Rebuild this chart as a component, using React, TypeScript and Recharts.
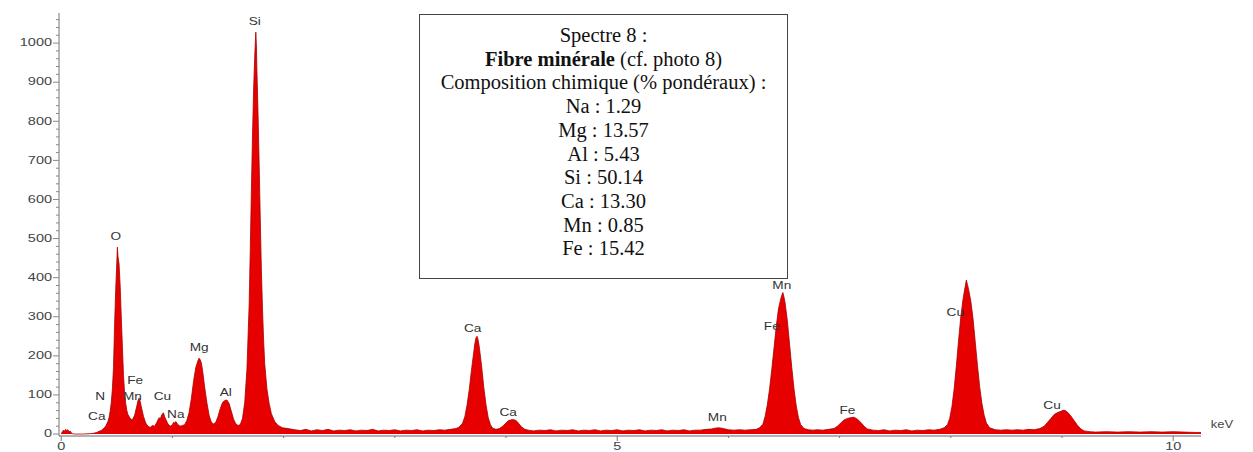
import { AreaChart, Area, XAxis, YAxis, ReferenceDot } from "recharts";

// EDS spectrum, [keV, counts]
const spectrumLow: [number, number][] = [
  [0.0, 0], [0.01, 6], [0.02, 10], [0.03, 7], [0.04, 12], [0.05, 9], [0.06, 11], [0.07, 5],
  [0.08, 8], [0.09, 3], [0.1, 1], [0.12, 0], [0.2, 0], [0.26, 1], [0.29, 2], [0.32, 4],
  [0.34, 7], [0.36, 9], [0.38, 14], [0.4, 20], [0.42, 32], [0.43, 42], [0.44, 58], [0.45, 80],
  [0.46, 115], [0.47, 170], [0.48, 280], [0.49, 370], [0.5, 440], [0.505, 478], [0.51, 455],
  [0.52, 435], [0.53, 380], [0.54, 300], [0.55, 225], [0.56, 150], [0.57, 105], [0.58, 78],
  [0.59, 60], [0.6, 50], [0.62, 40], [0.64, 36], [0.66, 48], [0.68, 72], [0.69, 85], [0.7, 92],
  [0.71, 84], [0.72, 70], [0.74, 45], [0.76, 28], [0.78, 20], [0.8, 17], [0.82, 22], [0.84, 20],
  [0.86, 30], [0.88, 42], [0.89, 38], [0.9, 46], [0.91, 52], [0.92, 54], [0.93, 44], [0.94, 38],
  [0.96, 26], [0.98, 20], [1.0, 24], [1.01, 30], [1.02, 28], [1.03, 32], [1.05, 24], [1.07, 20],
  [1.09, 22], [1.11, 24], [1.13, 35], [1.15, 55], [1.17, 90], [1.19, 135], [1.21, 170],
  [1.23, 188], [1.24, 194], [1.25, 190], [1.26, 182], [1.27, 165], [1.29, 120], [1.31, 80],
  [1.33, 48], [1.35, 30], [1.37, 26], [1.39, 30], [1.41, 45], [1.43, 65], [1.45, 80], [1.47, 86],
  [1.49, 87], [1.51, 78], [1.53, 58], [1.55, 38], [1.57, 26], [1.59, 22], [1.61, 24], [1.63, 40],
  [1.65, 80], [1.67, 165], [1.69, 330], [1.7, 470], [1.71, 620], [1.72, 760], [1.73, 880],
  [1.74, 965], [1.745, 998], [1.75, 1028], [1.755, 995], [1.76, 930], [1.77, 820], [1.78, 690],
  [1.79, 550], [1.8, 420], [1.81, 320], [1.82, 240], [1.83, 180], [1.85, 115], [1.87, 78],
  [1.89, 52], [1.92, 32], [1.95, 22], [1.99, 16], [2.04, 14], [2.1, 11],
];

const spectrumMid: [number, number][] = [
  [2.15, 9], [2.2, 12], [2.25, 8], [2.3, 11], [2.35, 9], [2.4, 12], [2.45, 8], [2.5, 10],
  [2.55, 9], [2.6, 11], [2.65, 8], [2.7, 10], [2.75, 9], [2.8, 12], [2.85, 8], [2.9, 10],
  [2.95, 9], [3.0, 11], [3.05, 8], [3.1, 10], [3.15, 9], [3.2, 11], [3.25, 8], [3.3, 10],
  [3.35, 9], [3.4, 11], [3.45, 10], [3.5, 12], [3.55, 14], [3.58, 18], [3.61, 28], [3.63, 45],
  [3.65, 75], [3.67, 115], [3.69, 165], [3.71, 210], [3.72, 232], [3.73, 246], [3.74, 250],
  [3.75, 240], [3.76, 222], [3.78, 175], [3.8, 120], [3.82, 75], [3.84, 42], [3.86, 24],
  [3.88, 15], [3.91, 12], [3.94, 14], [3.97, 20], [4.0, 28], [4.02, 34], [4.04, 36], [4.06, 37],
  [4.08, 36], [4.1, 32], [4.12, 25], [4.14, 18], [4.17, 12], [4.2, 10], [4.25, 8], [4.3, 10],
  [4.35, 9], [4.4, 11], [4.45, 8], [4.5, 10], [4.55, 9], [4.6, 11], [4.65, 8], [4.7, 10],
  [4.75, 9], [4.8, 11], [4.85, 8], [4.9, 10], [4.95, 9], [5.0, 11], [5.05, 8], [5.1, 10],
  [5.15, 9], [5.2, 11], [5.25, 8], [5.3, 10], [5.35, 9], [5.4, 11], [5.45, 8], [5.5, 10],
  [5.55, 9], [5.6, 11], [5.65, 8], [5.7, 10], [5.75, 10], [5.8, 12], [5.85, 13], [5.88, 15],
  [5.91, 16], [5.94, 15], [5.97, 13], [6.0, 11], [6.05, 10], [6.1, 11], [6.15, 10], [6.2, 11],
  [6.25, 12], [6.28, 16],
];

const spectrumHigh: [number, number][] = [
  [6.31, 25], [6.33, 45], [6.35, 75], [6.37, 115], [6.39, 165], [6.41, 220], [6.43, 275],
  [6.45, 320], [6.47, 345], [6.48, 355], [6.49, 362], [6.5, 350], [6.51, 335], [6.53, 290],
  [6.55, 230], [6.57, 170], [6.59, 115], [6.61, 72], [6.63, 42], [6.65, 24], [6.68, 14],
  [6.72, 11], [6.76, 10], [6.8, 11], [6.85, 10], [6.9, 12], [6.95, 14], [6.98, 20], [7.01, 28],
  [7.04, 36], [7.07, 40], [7.1, 42], [7.13, 43], [7.16, 38], [7.19, 30], [7.22, 20], [7.25, 13],
  [7.3, 10], [7.35, 9], [7.4, 11], [7.45, 8], [7.5, 10], [7.55, 9], [7.6, 11], [7.65, 8],
  [7.7, 10], [7.75, 9], [7.8, 11], [7.85, 10], [7.9, 12], [7.94, 16], [7.97, 24], [7.99, 40],
  [8.01, 70], [8.03, 115], [8.05, 175], [8.07, 240], [8.09, 300], [8.11, 345], [8.12, 362],
  [8.13, 378], [8.14, 394], [8.15, 382], [8.16, 370], [8.18, 340], [8.2, 295], [8.22, 235],
  [8.24, 175], [8.26, 120], [8.28, 78], [8.3, 48], [8.32, 28], [8.35, 16], [8.4, 11], [8.45, 10],
  [8.5, 11], [8.55, 10], [8.6, 11], [8.65, 10], [8.7, 12], [8.75, 11], [8.8, 14], [8.84, 20],
  [8.87, 30], [8.9, 40], [8.93, 50], [8.96, 55], [8.99, 58], [9.01, 61], [9.03, 60], [9.05, 56],
  [9.08, 46], [9.11, 34], [9.14, 22], [9.17, 13], [9.2, 8], [9.25, 6], [9.3, 5], [9.4, 6],
  [9.5, 5], [9.6, 6], [9.7, 5], [9.8, 6], [9.9, 5], [10.0, 6], [10.1, 5], [10.2, 4], [10.25, 4],
];

// element markers on the peaks
const peakSymbols = ["Si", "O", "Mg", "Al", "Fe", "N", "Mn", "Cu", "Na", "Ca", "Ca", "Ca", "Mn", "Mn", "Fe", "Cu", "Fe", "Cu"];
const peakLabelKeV = [1.74, 0.49, 1.24, 1.48, 0.665, 0.35, 0.64, 0.91, 1.03, 0.32, 3.7, 4.02, 5.9, 6.48, 6.39, 8.04, 7.07, 8.91];
const peakLabelCounts = [1054, 504, 220, 105, 138, 95, 95, 95, 49, 46, 271, 54, 41, 381, 274, 312, 61, 74];

const yMajorTicks = [0, 100, 200, 300, 400, 500, 600, 700, 800, 900, 1000];
const yTicks = [
  0, 20, 40, 60, 80, 100, 120, 140, 160, 180, 200, 220, 240, 260, 280, 300, 320, 340, 360, 380,
  400, 420, 440, 460, 480, 500, 520, 540, 560, 580, 600, 620, 640, 660, 680, 700, 720, 740, 760,
  780, 800, 820, 840, 860, 880, 900, 920, 940, 960, 980, 1000, 1020, 1040, 1060,
];
const xMajorTicks = [0, 5, 10];
const xTicks = [0, 1, 2, 3, 4, 5, 6, 7, 8, 9, 10];

const boxTitle = "Spectre 8 :";
const boxSubtitleBold = "Fibre minérale";
const boxSubtitleRest = " (cf. photo 8)";
const boxHeading = "Composition chimique (% pondéraux) :";
const compositionElements = ["Na", "Mg", "Al", "Si", "Ca", "Mn", "Fe"];
const compositionValues = ["1.29", "13.57", "5.43", "50.14", "13.30", "0.85", "15.42"];

const data = [...spectrumLow, ...spectrumMid, ...spectrumHigh].map(([keV, counts]) => ({ keV, counts }));
const peakLabels = peakSymbols.map((s, i) => ({ s, x: peakLabelKeV[i], y: peakLabelCounts[i] }));

const SANS = '"Liberation Sans", Arial, sans-serif';

function YTick({ x, y, payload }: any) {
  const v = payload.value;
  const major = yMajorTicks.includes(v);
  return (
    <g>
      <line x1={x - (major ? 6 : 3)} x2={x} y1={y} y2={y} stroke="#888" strokeWidth={1} />
      {major && (
        <text
          transform={`translate(${x - 7},${y}) scale(1.45,1)`}
          textAnchor="end"
          dominantBaseline="central"
          fontSize={10}
          fontFamily={SANS}
          fill="#444"
        >
          {v}
        </text>
      )}
    </g>
  );
}

function XTick({ x, y, payload }: any) {
  const v = payload.value;
  const major = xMajorTicks.includes(v);
  return (
    <g>
      <line x1={x} x2={x} y1={y} y2={y + (major ? 5 : 2)} stroke="#777" strokeWidth={1} />
      {major && (
        <text
          transform={`translate(${x},${y + 11}) scale(1.45,1)`}
          textAnchor="middle"
          dominantBaseline="central"
          fontSize={10}
          fontFamily={SANS}
          fill="#444"
        >
          {v}
        </text>
      )}
    </g>
  );
}

function PeakLabel({ cx, cy, s }: any) {
  return (
    <text
      transform={`translate(${cx},${cy}) scale(1.3,1)`}
      textAnchor="middle"
      dominantBaseline="central"
      fontSize={10.5}
      fontFamily={SANS}
      fill="#333"
    >
      {s}
    </text>
  );
}

export default function App() {
  return (
    <div style={{ position: "absolute", left: 0, top: 0, width: 1253, height: 452, background: "#fff" }}>
      <AreaChart width={1253} height={452} data={data} margin={{ top: 13, right: 52, bottom: 0, left: 0 }}>
        <XAxis
          dataKey="keV"
          type="number"
          domain={[-0.02, 10.25]}
          allowDataOverflow
          ticks={xTicks}
          interval={0}
          height={16}
          tickSize={0}
          tickMargin={0}
          tickLine={false}
          tick={<XTick />}
          axisLine={{ stroke: "#666" }}
          label={{
            content: ({ viewBox }: any) => (
              <text
                transform={`translate(${viewBox.x + viewBox.width + 21},${viewBox.y - 11}) scale(1.3,1)`}
                textAnchor="middle"
                dominantBaseline="central"
                fontSize={10}
                fontFamily={SANS}
                fill="#444"
              >
                keV
              </text>
            ),
          }}
        />
        <XAxis xAxisId="top" orientation="top" type="number" domain={[0, 1]} height={0} tick={false} tickLine={false} axisLine={{ stroke: "#999" }} />
        <YAxis
          type="number"
          domain={[-5, 1077]}
          allowDataOverflow
          ticks={yTicks}
          interval={0}
          width={59}
          tickSize={0}
          tickMargin={0}
          tickLine={false}
          tick={<YTick />}
          axisLine={{ stroke: "#777" }}
        />
        <YAxis yAxisId="right" orientation="right" type="number" domain={[0, 1]} width={0} tick={false} tickLine={false} axisLine={{ stroke: "#777" }} />
        <Area
          dataKey="counts"
          type="linear"
          fill="#e60000"
          fillOpacity={1}
          stroke="#a80000"
          strokeWidth={0.8}
          isAnimationActive={false}
        />
        {peakLabels.map((p, i) => (
          <ReferenceDot
            key={i}
            x={p.x}
            y={p.y}
            r={0}
            ifOverflow="visible"
            shape={(props: any) => <PeakLabel {...props} s={p.s} />}
          />
        ))}
      </AreaChart>

      <div
        style={{
          position: "absolute",
          left: 419,
          top: 14,
          width: 369,
          height: 265,
          boxSizing: "border-box",
          border: "1.5px solid #444",
          background: "#fff",
          paddingTop: 9,
          fontFamily: '"Liberation Serif", "Times New Roman", serif',
          fontSize: 20.5,
          lineHeight: "23.7px",
          color: "#111",
          textAlign: "center",
        }}
      >
        <div>{boxTitle}</div>
        <div>
          <b>{boxSubtitleBold}</b>
          {boxSubtitleRest}
        </div>
        <div>{boxHeading}</div>
        {compositionElements.map((el, i) => (
          <div key={el}>
            {el} : {compositionValues[i]}
          </div>
        ))}
      </div>
    </div>
  );
}
